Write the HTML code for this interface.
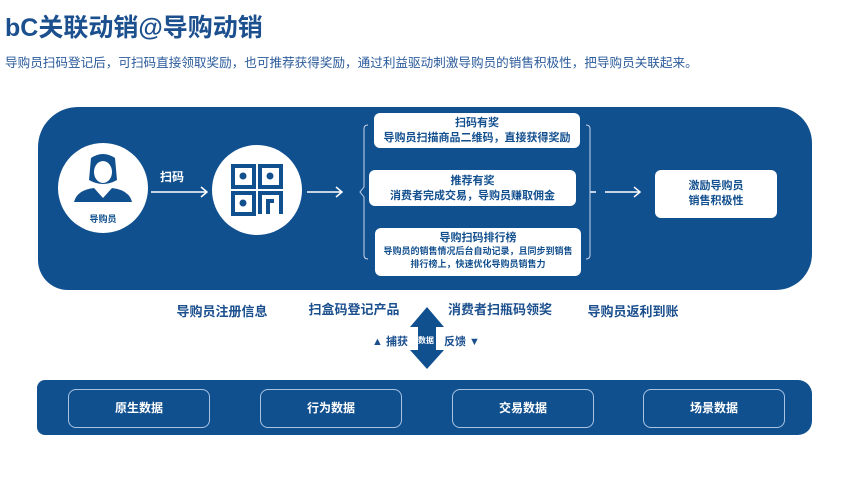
<!DOCTYPE html>
<html><head><meta charset="utf-8"><style>
body{margin:0;width:860px;height:479px;background:#fff;position:relative;overflow:hidden;font-family:"Liberation Sans","Noto Sans CJK SC",sans-serif;}
.a{position:absolute}
.t{font-weight:bold;text-align:center}
.wb{background:#fff;border-radius:6px;color:#124f8e;font-weight:bold;text-align:center}
.db{border:1.5px solid #a9c3e3;border-radius:8px;color:#fff;font-weight:bold;font-size:12px;text-align:center;line-height:37px}
</style></head><body>
<div class="a" style="left:5px;top:8px;font-size:25px;font-weight:bold;color:#1b4f8e">bC关联动销@导购动销</div>
<div class="a" style="left:5px;top:52px;font-size:12.6px;color:#2b5b9b;white-space:nowrap">导购员扫码登记后，可扫码直接领取奖励，也可推荐获得奖励，通过利益驱动刺激导购员的销售积极性，把导购员关联起来。</div>
<div class="a" style="left:38px;top:107px;width:774px;height:183px;background:#11508f;border-radius:40px 36px 36px 30px"></div>
<div class="a" style="left:58px;top:143px;width:90px;height:90px;border-radius:50%;background:#fff"></div>
<svg class="a" style="left:0;top:0" width="860" height="479">
<g fill="#11508f">
<path d="M74 202 q3 -12 20 -14 l9 10 l9 -10 q17 2 20 14 z"/>
<path d="M91 158 q12 -8 24 0 l2 22 q-14 8 -28 0z"/>
</g>
<ellipse cx="103" cy="172" rx="9" ry="11" fill="#fff"/>
<path d="M95 163 q8 -4 16 0 l0 -4 q-8 -4 -16 0z" fill="#11508f"/>
<text x="103" y="222" font-size="9" font-weight="bold" fill="#11508f" text-anchor="middle" font-family="Noto Sans CJK SC">导购员</text>
<circle cx="257" cy="190" r="45" fill="#fff"/>
<g fill="none" stroke="#11508f" stroke-width="4">
<rect x="233" y="166" width="21" height="21"/><rect x="260" y="166" width="21" height="21"/>
<rect x="233" y="193" width="21" height="21"/>
<path d="M260 214 v-21 h21 v21 M268 214 v-13 h6"/>
</g>
<g fill="#11508f"><circle cx="243" cy="176" r="3.5"/><circle cx="270" cy="176" r="3.5"/><circle cx="243" cy="203" r="3.5"/></g>
<g stroke="#fff" stroke-width="1.5" fill="none">
<path d="M151 192 h56 M201 187 l6 5 l-6 5"/>
<path d="M307 192 h35 M336 187 l6 5 l-6 5"/>
<path d="M605 192 h35 M634 187 l6 5 l-6 5"/>
<path d="M596 192 h-6"/>
</g>
<g stroke="#c8d6ea" stroke-width="1" fill="none">
<path d="M368 125 q-4 0 -4 4 v58 l-4 5 l4 5 v58 q0 4 4 4"/>
<path d="M586 125 q4 0 4 4 v126 q0 4 -4 4"/>
</g>
<polygon points="427,307 444,327 436,327 436,350 444,350 427,369 410,350 418,350 418,327 410,327" fill="#11508f"/>
</svg>
<div class="a t" style="left:160px;top:168px;font-size:12px;color:#fff">扫码</div>
<div class="a wb" style="left:374px;top:113px;width:206px;height:35px;font-size:11px;line-height:15px;padding-top:3px;box-sizing:border-box">扫码有奖<br>导购员扫描商品二维码，直接获得奖励</div>
<div class="a wb" style="left:369px;top:170px;width:207px;height:36px;font-size:11px;line-height:15px;padding-top:4px;box-sizing:border-box">推荐有奖<br>消费者完成交易，导购员赚取佣金</div>
<div class="a wb" style="left:375px;top:228px;width:206px;height:48px;font-size:11px;line-height:13px;padding-top:4px;box-sizing:border-box">导购扫码排行榜<br><span style="font-size:9px;line-height:12px">导购员的销售情况后台自动记录，且同步到销售<br>排行榜上，快速优化导购员销售力</span></div>
<div class="a wb" style="left:655px;top:170px;width:122px;height:48px;font-size:11px;line-height:15px;padding-top:9px;box-sizing:border-box">激励导购员<br>销售积极性</div>
<div class="a t" style="left:162px;top:301px;width:120px;font-size:13px;color:#1b4f8e">导购员注册信息</div>
<div class="a t" style="left:294px;top:299px;width:120px;font-size:13px;color:#1b4f8e">扫盒码登记产品</div>
<div class="a t" style="left:440px;top:299px;width:120px;font-size:13px;color:#1b4f8e">消费者扫瓶码领奖</div>
<div class="a t" style="left:573px;top:301px;width:120px;font-size:13px;color:#1b4f8e">导购员返利到账</div>
<div class="a t" style="left:372px;top:333px;font-size:11px;color:#1b4f8e">▲ 捕获</div>
<div class="a t" style="left:418px;top:335px;font-size:8px;color:#fff">数据</div>
<div class="a t" style="left:444px;top:333px;font-size:11px;color:#1b4f8e">反馈 ▼</div>
<div class="a" style="left:37px;top:380px;width:775px;height:55px;background:#11508f;border-radius:8px 14px 14px 8px"></div>
<div class="a db" style="left:68px;top:389px;width:140px;height:37px">原生数据</div>
<div class="a db" style="left:260px;top:389px;width:140px;height:37px">行为数据</div>
<div class="a db" style="left:452px;top:389px;width:140px;height:37px">交易数据</div>
<div class="a db" style="left:643px;top:389px;width:140px;height:37px">场景数据</div>
</body></html>
